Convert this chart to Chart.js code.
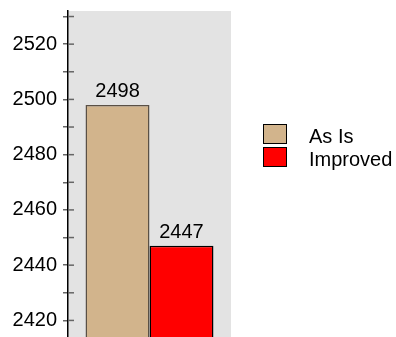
<!DOCTYPE html>
<html>
<head>
<meta charset="utf-8">
<script src="https://cdn.jsdelivr.net/npm/chart.js@4"></script>
<style>
body{margin:0;background:#fff;overflow:hidden;}
#wrap{width:396px;height:337px;position:relative;}
</style>
</head>
<body>
<div id="wrap"><canvas id="chart"></canvas></div>
<script>
let categories=[""];
let seriesNames=["As Is","Improved"];
let asIs=[2498];
let improved=[2447];
let yTicks=[2420,2430,2440,2450,2460,2470,2480,2490,2500,2510,2520,2530];
let yMin=2414;
let yMax=2532;

let fontFam="'Liberation Sans', Arial, sans-serif";

/* gray plot background */
let bgPlugin={
id:"bg",
beforeDraw(chart){
let a=chart.chartArea;
let ctx=chart.ctx;
ctx.save();
ctx.fillStyle="#e3e3e3";
ctx.fillRect(a.left,a.top,a.right-a.left,a.bottom-a.top);
ctx.restore();
}
};

/* inner half of tick marks, value labels, legend */
let extras={
id:"extras",
afterDraw(chart){
let ctx=chart.ctx;
let y=chart.scales.y;
let a=chart.chartArea;
ctx.save();
ctx.strokeStyle="#666";
ctx.lineWidth=1.5;
yTicks.forEach(function(v){
let py=y.getPixelForValue(v);
ctx.beginPath();
ctx.moveTo(a.left,py);
ctx.lineTo(a.left+6,py);
ctx.stroke();
});

ctx.fillStyle="#000";
ctx.font="20px "+fontFam;
ctx.textAlign="center";
ctx.textBaseline="alphabetic";
chart.data.datasets.forEach(function(ds,i){
chart.getDatasetMeta(i).data.forEach(function(bar,j){
ctx.fillText(String(ds.data[j]),bar.x,bar.y-8);
});
});

/* legend */
let lx=a.right+32;
let ly=124;
chart.data.datasets.forEach(function(ds,i){
let top=ly+i*23;
ctx.fillStyle=ds.backgroundColor;
ctx.fillRect(lx,top,24,20);
ctx.strokeStyle="#000";
ctx.lineWidth=1;
ctx.strokeRect(lx+0.5,top+0.5,23,19);
ctx.fillStyle="#000";
ctx.textAlign="left";
ctx.fillText(ds.label,lx+46,top+19);
});
ctx.restore();
}
};

new Chart(document.getElementById("chart"),{
type:"bar",
data:{
labels:categories,
datasets:[
{label:seriesNames[0],data:asIs,backgroundColor:"#d2b48c",borderColor:"#5a5045",borderWidth:1.5,categoryPercentage:0.785,barPercentage:1.0},
{label:seriesNames[1],data:improved,backgroundColor:"#ff0000",borderColor:"#000",borderWidth:1.5,categoryPercentage:0.785,barPercentage:1.0}
]
},
options:{
responsive:true,
maintainAspectRatio:false,
animation:false,
layout:{padding:{top:11,right:165,left:0,bottom:0}},
plugins:{legend:{display:false},tooltip:{enabled:false}},
scales:{
x:{display:false},
y:{
min:yMin,
max:yMax,
afterBuildTicks:function(axis){axis.ticks=yTicks.map(function(v){return {value:v};});},
afterFit:function(axis){axis.width=68;axis.paddingTop=0;axis.paddingBottom=0;},
border:{color:"#000",width:1.5},
grid:{drawOnChartArea:false,tickLength:5,color:"#666",lineWidth:1.5},
ticks:{autoSkip:false,padding:6,color:"#000",font:{family:fontFam,size:20},
callback:function(v){return v%20===0?String(v):"";}}
}
}
},
plugins:[bgPlugin,extras]
});
</script>
</body>
</html>
